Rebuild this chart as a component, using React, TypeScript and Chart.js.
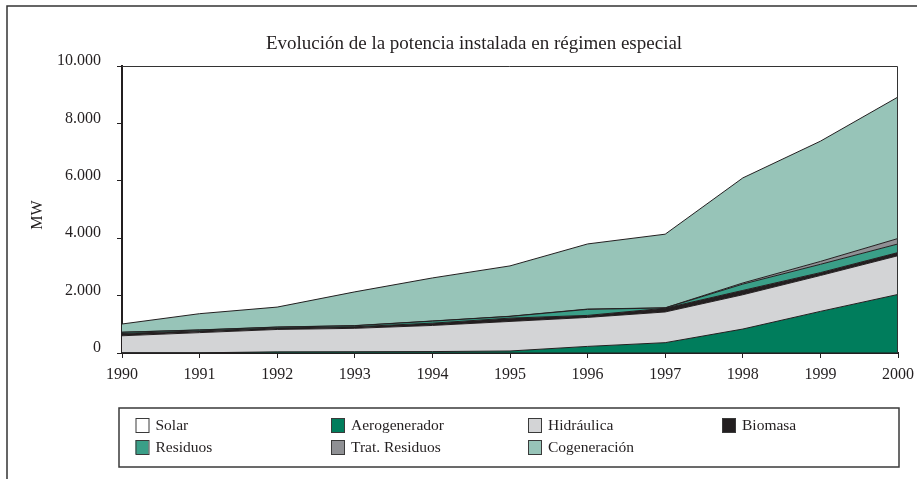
import React, { useEffect, useRef } from 'react';
import { Chart, registerables } from 'chart.js';

Chart.register(...registerables);

const years = ['1990', '1991', '1992', '1993', '1994', '1995', '1996', '1997', '1998', '1999', '2000'];
const solar = [1, 1, 1, 1, 1, 1, 1, 1, 1, 2, 2];
const aerogenerador = [6, 6, 39, 44, 49, 69, 229, 359, 834, 1448, 2038];
const hidraulica = [593, 703, 780, 815, 910, 1030, 1010, 1070, 1195, 1250, 1350];
const biomasa = [80, 60, 50, 55, 80, 115, 70, 130, 150, 100, 110];
const residuos = [40, 30, 30, 35, 70, 60, 210, 10, 220, 290, 300];
const tratResiduos = [5, 5, 5, 5, 5, 5, 10, 5, 40, 100, 190];
const cogeneracion = [285, 565, 695, 1175, 1500, 1755, 2270, 2565, 3660, 4190, 4930];

const seriesNames = ['Solar', 'Aerogenerador', 'Hidráulica', 'Biomasa', 'Residuos', 'Trat. Residuos', 'Cogeneración'];
const seriesValues = [solar, aerogenerador, hidraulica, biomasa, residuos, tratResiduos, cogeneracion];
const seriesColors = ['#ffffff', '#007d5c', '#d3d4d6', '#231f20', '#3a9f88', '#8f9094', '#97c4b8'];

const chartTitle = 'Evolución de la potencia instalada en régimen especial';
const yTitle = 'MW';

const FONT = '"Liberation Serif", "Times New Roman", serif';
const INK = '#231f20';

const fmt = (v: number) => String(v).replace(/\B(?=(\d{3})+(?!\d))/g, '.');

const decorPlugin = {
  id: 'decor',
  beforeDraw(chart: any) {
    const ctx = chart.ctx;
    ctx.save();
    ctx.fillStyle = '#ffffff';
    ctx.fillRect(0, 0, chart.width, chart.height);
    ctx.strokeStyle = '#333333';
    ctx.lineWidth = 1.5;
    ctx.beginPath();
    ctx.moveTo(7, chart.height);
    ctx.lineTo(7, 6);
    ctx.lineTo(chart.width, 6);
    ctx.stroke();
    ctx.restore();
  },
  afterDraw(chart: any) {
    const ctx = chart.ctx;
    const ca = chart.chartArea;
    ctx.save();
    // plot frame top and right
    ctx.strokeStyle = '#333333';
    ctx.lineWidth = 1;
    ctx.beginPath();
    ctx.moveTo(ca.left, ca.top + 0.5);
    ctx.lineTo(ca.right - 0.5, ca.top + 0.5);
    ctx.lineTo(ca.right - 0.5, ca.bottom);
    ctx.stroke();

    // title
    ctx.fillStyle = INK;
    ctx.font = `19px ${FONT}`;
    ctx.textAlign = 'center';
    ctx.textBaseline = 'middle';
    ctx.fillText(chartTitle, 474, 44);

    // y title
    ctx.save();
    ctx.translate(38, 215);
    ctx.rotate(-Math.PI / 2);
    ctx.font = `16px ${FONT}`;
    ctx.fillText(yTitle, 0, 0);
    ctx.restore();

    // legend box
    ctx.strokeStyle = '#3a3a3a';
    ctx.lineWidth = 1.5;
    ctx.strokeRect(119, 408, 780, 59);
    const cols = [135.5, 331, 528, 722];
    const rows = [418, 440];
    ctx.font = `15.5px ${FONT}`;
    ctx.textAlign = 'left';
    ctx.textBaseline = 'middle';
    chart.data.datasets.forEach((ds: any, i: number) => {
      const x = cols[i % 4];
      const y = rows[Math.floor(i / 4)];
      ctx.fillStyle = ds.backgroundColor;
      ctx.fillRect(x, y, 13, 14);
      ctx.strokeStyle = '#3a3a3a';
      ctx.lineWidth = 1;
      ctx.strokeRect(x + 0.5, y + 0.5, 13, 14);
      ctx.fillStyle = INK;
      ctx.fillText(ds.label, x + 20, y + 8);
    });
    ctx.restore();
  },
};

export default function App() {
  const ref = useRef<HTMLCanvasElement | null>(null);

  useEffect(() => {
    document.body.style.margin = '0';
    const canvas = ref.current;
    if (!canvas) return;
    const chart = new Chart(canvas, {
      type: 'line',
      data: {
        labels: years,
        datasets: seriesNames.map((name, i) => ({
          label: name,
          data: seriesValues[i],
          backgroundColor: seriesColors[i],
          borderColor: INK,
          borderWidth: 1,
          fill: i === 0 ? 'origin' : '-1',
          pointRadius: 0,
          tension: 0,
        })),
      },
      options: {
        animation: false,
        responsive: false,
        maintainAspectRatio: false,
        layout: { padding: { top: 66, right: 19, left: 0, bottom: 0 } },
        plugins: {
          legend: { display: false },
          title: { display: false },
          tooltip: { enabled: false },
        },
        scales: {
          x: {
            type: 'category',
            offset: false,
            grid: { display: true, drawOnChartArea: false, drawTicks: true, tickLength: 5, color: INK, offset: false },
            border: { display: true, color: INK, width: 2 },
            ticks: { color: INK, font: { family: FONT, size: 16 }, padding: 7, maxRotation: 0, autoSkip: false },
            afterFit: (s: any) => { s.height = 126; s.paddingLeft = 0; s.paddingRight = 0; },
          },
          y: {
            stacked: true,
            min: 0,
            max: 10000,
            grid: { display: true, drawOnChartArea: false, drawTicks: true, tickLength: 5, color: INK },
            border: { display: true, color: INK, width: 2 },
            ticks: {
              stepSize: 2000,
              color: INK,
              font: { family: FONT, size: 16 },
              padding: 16,
              labelOffset: -5,
              callback: (v: any) => fmt(Number(v)),
            },
            afterFit: (s: any) => { s.width = 122; s.paddingTop = 0; s.paddingBottom = 0; },
          },
        },
      },
      plugins: [decorPlugin],
    });
    return () => chart.destroy();
  }, []);

  return (
    <div style={{ width: 917, height: 479 }}>
      <canvas ref={ref} width={917} height={479} style={{ display: 'block' }} />
    </div>
  );
}
